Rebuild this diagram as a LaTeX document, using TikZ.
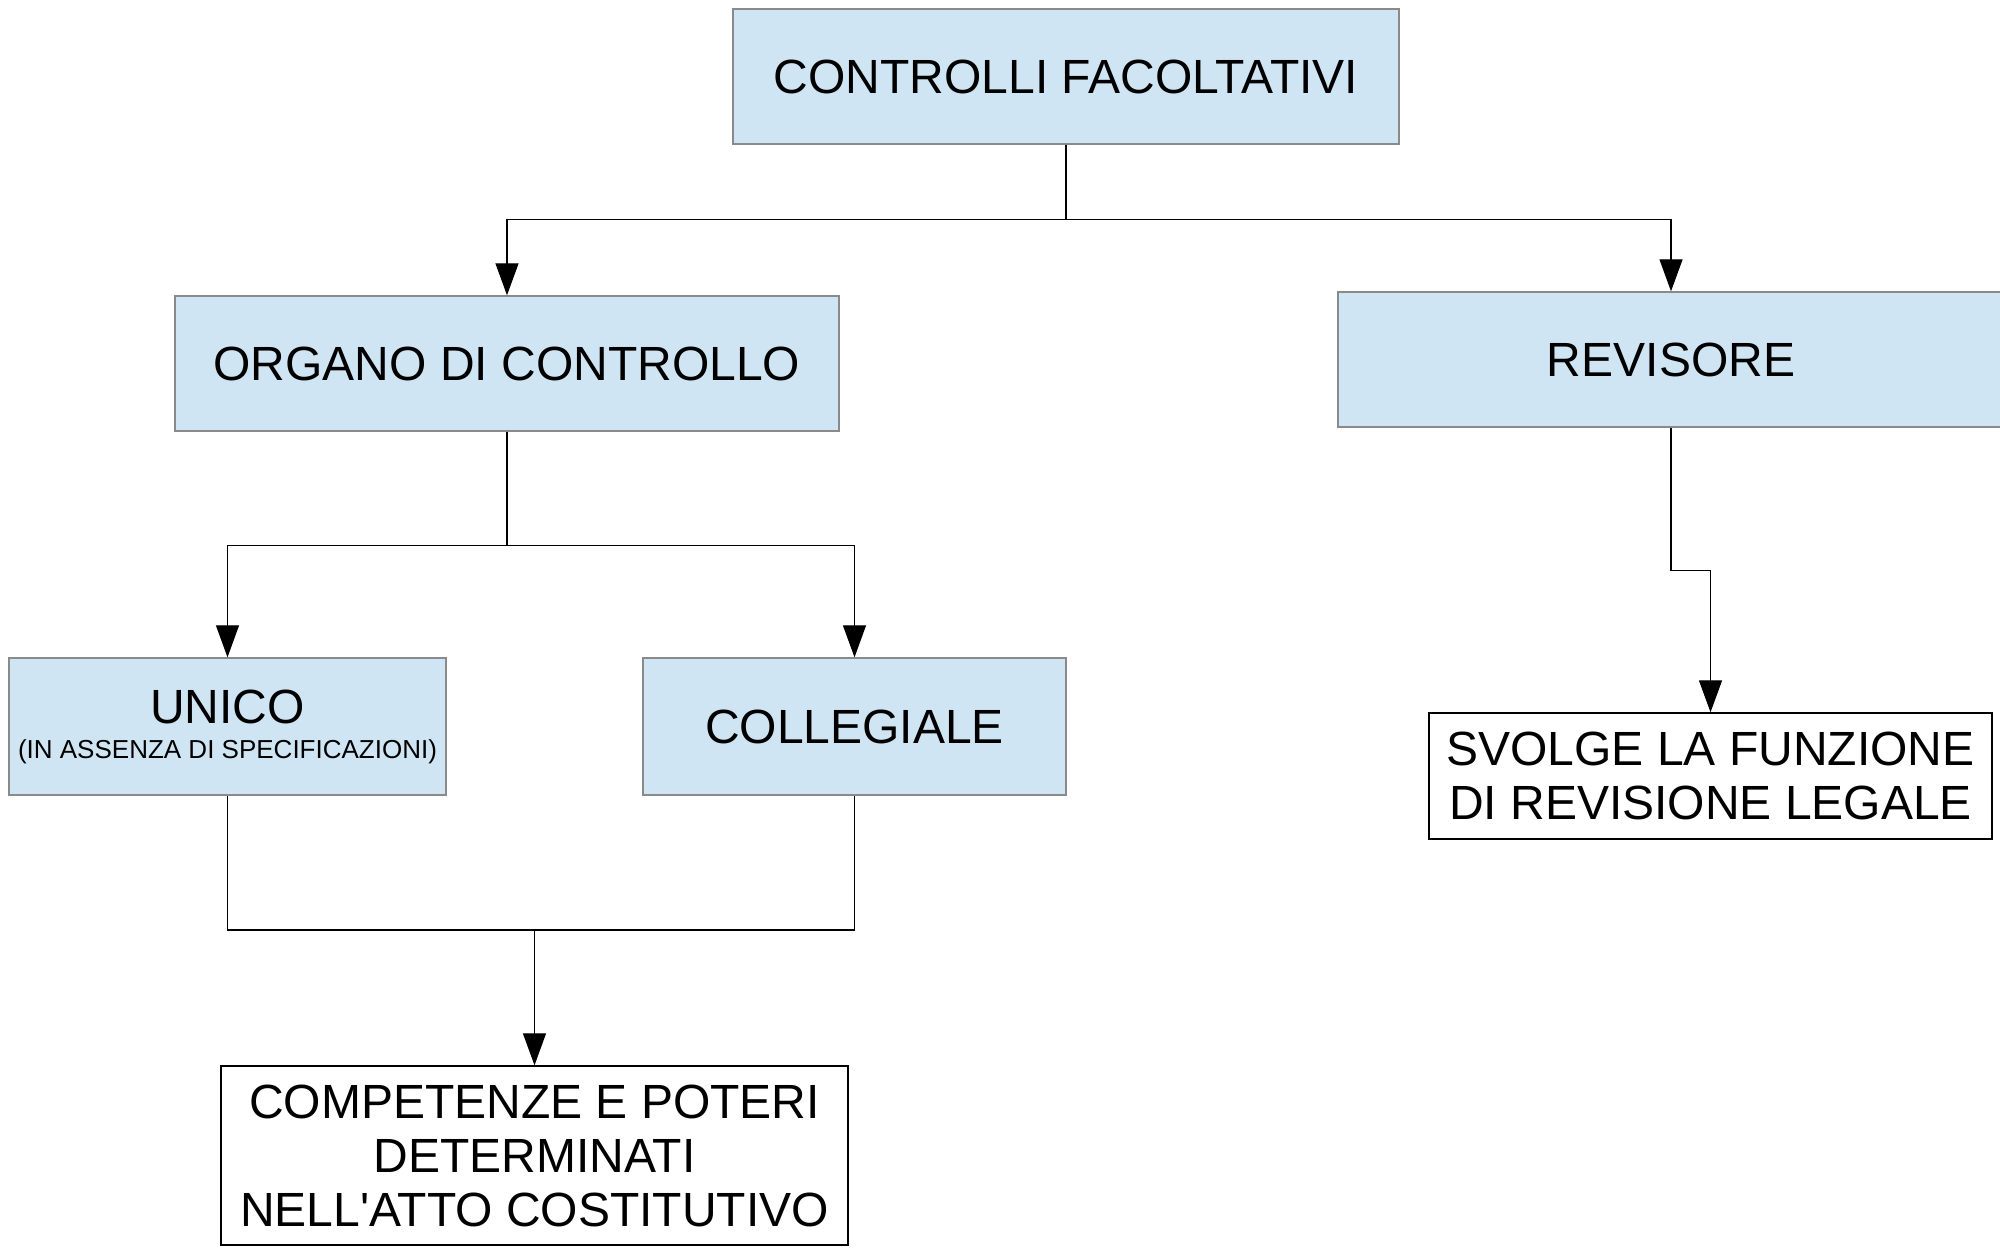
\documentclass[tikz,border=0pt]{standalone}
\usepackage{fontspec}
\setmainfont{Liberation Sans}
\usetikzlibrary{arrows.meta}
\definecolor{boxblue}{HTML}{CFE5F3}
\definecolor{boxline}{HTML}{8A8A8A}
\begin{document}
\begin{tikzpicture}[x=0.5pt,y=-0.5pt,
  bluebox/.style={draw=boxline, fill=boxblue, line width=0.7pt, inner sep=0pt, align=center,
    font=\fontsize{24pt}{27.5pt}\selectfont},
  whitebox/.style={draw=black, fill=white, line width=0.7pt, inner sep=0pt, align=center,
    font=\fontsize{24pt}{27pt}\selectfont},
  conn/.style={draw=black, line width=0.65pt},
  arr/.style={conn, -{Triangle[length=16pt,width=11.5pt]}}]
\useasboundingbox (0,0) rectangle (2000,1247);
\fill[white] (0,0) rectangle (2000,1247);
\node[bluebox, minimum width=333pt, minimum height=67.5pt] (top) at (1066,76.5) {CONTROLLI FACOLTATIVI};
\node[bluebox, minimum width=332pt, minimum height=67.5pt] (organo) at (507,363.5) {ORGANO DI CONTROLLO};
\node[bluebox, minimum width=333pt, minimum height=67.5pt] (revisore) at (1671,359.5) {REVISORE};
\node[bluebox, minimum width=218.5pt, minimum height=68.5pt] (unico) at (227.5,726.5) {UNICO\\[-10pt]{\fontsize{13pt}{15pt}\selectfont (IN ASSENZA DI SPECIFICAZIONI)}};
\node[bluebox, minimum width=211.5pt, minimum height=68.5pt] (colleg) at (854.5,726.5) {COLLEGIALE};
\node[whitebox, minimum width=281.5pt, minimum height=63pt] (svolge) at (1710.5,776) {SVOLGE LA FUNZIONE\\DI REVISIONE LEGALE};
\node[whitebox, minimum width=313.5pt, minimum height=89.5pt] (comp) at (534.5,1155.5) {COMPETENZE E POTERI\\DETERMINATI\\NELL\textquotesingle ATTO COSTITUTIVO};
\draw[arr] (top.south) -- ++(0,75) -| (organo.north);
\draw[arr] (top.south) -- ++(0,75) -| (revisore.north);
\draw[arr] (organo.south) -- ++(0,114) -| (unico.north);
\draw[arr] (organo.south) -- ++(0,114) -| (colleg.north);
\coordinate (j) at (comp.north |- 0,930);
\draw[conn] (unico.south) |- (j) -| (colleg.south);
\draw[arr] (j) -- (comp.north);
\draw[arr] (revisore.south) -- ++(0,143) -| (svolge.north);
\end{tikzpicture}
\end{document}
